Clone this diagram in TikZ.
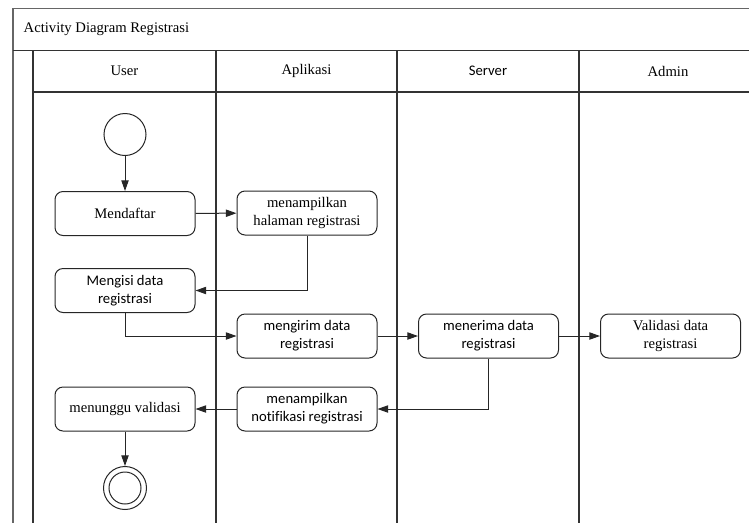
\documentclass[tikz,border=0pt]{standalone}
\usepackage{fontspec}
\setmainfont{Liberation Serif}
\newfontfamily\calfont[Ligatures=NoCommon]{Carlito}
\usetikzlibrary{arrows.meta}
\begin{document}
\begin{tikzpicture}[x=0.75pt,y=-0.75pt,
  frame/.style={draw=black!80, line width=1.1pt},
  lbl/.style={font=\fontsize{11}{13.5}\selectfont},
  act/.style={draw=black!85, line width=0.75pt, rounded corners=6pt,
    minimum width=105pt, minimum height=33pt, align=center, inner sep=2pt,
    font=\fontsize{11}{13.5}\selectfont},
  cal/.style={font=\calfont\fontsize{11}{13.5}\selectfont},
  flow/.style={draw=black!85, line width=0.75pt, -{Triangle[length=8pt,width=5.5pt]}},
  startnode/.style={circle, draw=black!85, line width=0.75pt, minimum size=31.5pt, inner sep=0pt},
  endring/.style={circle, draw=black!85, line width=0.75pt, inner sep=0pt}]
\path[use as bounding box] (0,0) rectangle (749,522);
\clip (0,0) rectangle (749,522);

% pool frame, title band and swimlanes
\draw[frame, draw=black!60] (13,530) -- (13,8.5) -- (760,8.5);
\draw[frame] (13,50.5) -- (760,50.5);
\draw[frame] (33,50.5) -- (33,530);
\draw[frame] (33,92) -- (760,92);
\foreach \lx in {216,397,579} \draw[frame] (\lx,50.5) -- (\lx,530);

\node[lbl, anchor=west] (title) at (19,29.5) {Activity Diagram Registrasi};
\node[lbl] (hUser) at (124.5,71) {User};
\node[lbl] (hApp) at (306.5,71) {Aplikasi};
\node[cal] (hServer) at (488,71) {Server};
\node[lbl] (hAdmin) at (668,71) {Admin};

% activities
\node[startnode] (start) at (125,134.5) {};
\node[act] (daftar) at (125,213.5) {Mendaftar};
\node[act] (halaman) at (307,213) {menampilkan\\halaman registrasi};
\node[act, cal] (isi) at (125,290.5) {Mengisi data\\registrasi};
\node[act, cal] (kirim) at (307,336) {mengirim data\\registrasi};
\node[act, cal] (terima) at (488.5,336) {menerima data\\registrasi};
\node[act] (validasi) at (670.5,336) {Validasi data\\registrasi};
\node[act, cal] (notif) at (307,409) {menampilkan\\notifikasi registrasi};
\node[act] (tunggu) at (125,409) {menunggu validasi};
\node[endring, minimum size=32.25pt] (end) at (125,488) {};
\node[endring, minimum size=24pt] (endin) at (end) {};

% control flow
\draw[flow] (start) -- (daftar);
\draw[flow] (daftar) -- (halaman);
\draw[flow] (halaman.south) |- (isi.east);
\draw[flow] (isi.south) |- (kirim.west);
\draw[flow] (kirim) -- (terima);
\draw[flow] (terima) -- (validasi);
\draw[flow] (terima.south) |- (notif.east);
\draw[flow] (notif) -- (tunggu);
\draw[flow] (tunggu) -- (end);
\end{tikzpicture}
\end{document}
